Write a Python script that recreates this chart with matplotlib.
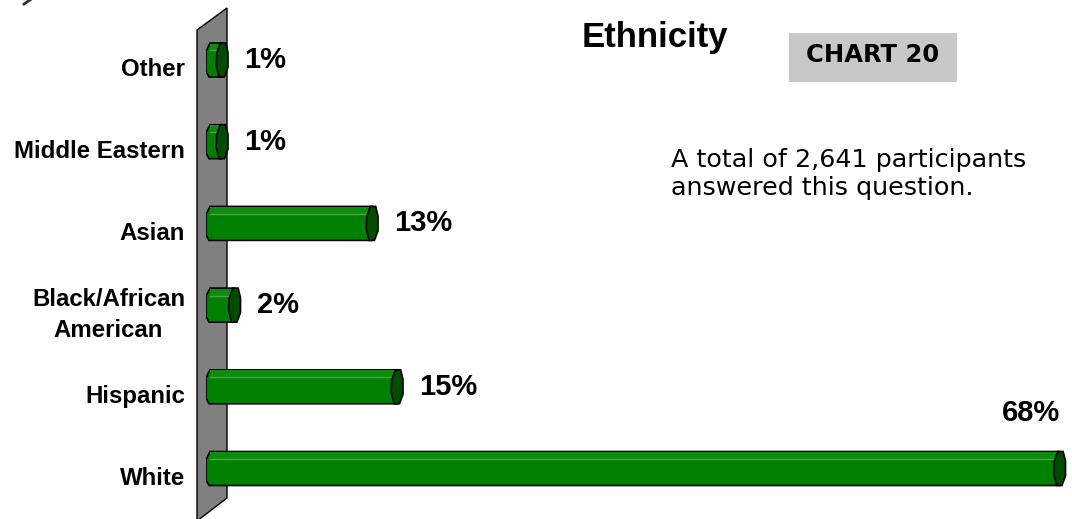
import matplotlib
matplotlib.use("Agg")
import matplotlib.pyplot as plt
from matplotlib.patches import Polygon, Rectangle

# Ethnicity breakdown (bottom to top)
categories = ["White", "Hispanic", "Black/African\nAmerican", "Asian", "Middle Eastern", "Other"]
percents = [68, 15, 2, 13, 1, 1]

W, H = 1072, 519
fig = plt.figure(figsize=(W / 100, H / 100), dpi=100)
fig.patch.set_facecolor("white")


def fx(px):
    return px / W


def fy(py):
    return 1 - py / H


# plot area: x in percent, y in category index
X0_PX, K = 206, 12.5
ax = fig.add_axes([fx(X0_PX), fy(509.35), (W - X0_PX) / W, (509.35 - 19.15) / H])
ax.set_xlim(0, (W - X0_PX) / K)
ax.set_ylim(-0.5, len(categories) - 0.5)
ax.axis("off")
ax.patch.set_visible(False)

# grey 3D back wall behind the bars
wall = Polygon([(fx(197), fy(30)), (fx(227), fy(8)), (fx(227), fy(498)), (fx(197), fy(521))],
               closed=True, facecolor="#808080", edgecolor="black", lw=1.0,
               transform=fig.transFigure, zorder=-1)
fig.add_artist(wall)
fig.add_artist(plt.Line2D([fx(24), fx(30)], [fy(4), fy(0)], color="#333333", lw=2,
                          transform=fig.transFigure))

bar_h = 0.416
cap_w = 0.95
x0 = 0.0

for i, (cat, v) in enumerate(zip(categories, percents)):
    top = i + bar_h / 2
    bot = i - bar_h / 2
    # front face ends at the value, the end cap sticks out to the right
    cl = v - 0.2 * cap_w
    cr = cl + cap_w
    xb = cl + 0.5 * cap_w
    body = Polygon([(x0 + 0.32, top), (xb, top), (xb, bot), (x0 + 0.24, bot),
                    (x0, bot + 0.07), (x0, top - 0.1)],
                   closed=True, facecolor="#008000", edgecolor="black", lw=1.2, zorder=2)
    ax.add_patch(body)
    ax.add_patch(Rectangle((x0 + 0.3, top - 0.22 * bar_h), xb - x0 - 0.3, 0.2 * bar_h,
                           facecolor="#0e8c0e", edgecolor="none", zorder=3))
    ax.plot([x0 + 0.3, xb], [top - 0.22 * bar_h] * 2, color="#45a545", lw=1, zorder=3)
    cap = Polygon([(cl + 0.35 * cap_w, top), (cl + 0.8 * cap_w, top), (cr, top - 0.28 * bar_h),
                   (cr, bot + 0.28 * bar_h), (cl + 0.7 * cap_w, bot), (cl + 0.25 * cap_w, bot),
                   (cl, bot + 0.35 * bar_h), (cl + 0.05 * cap_w, top - 0.3 * bar_h)],
                  closed=True, facecolor="#004d00", edgecolor="black", lw=1.2, zorder=4)
    ax.add_patch(cap)

    ax.text((185 - X0_PX) / K, i - 0.12, cat, ha="right", va="center",
            multialignment="center", fontsize=17.3, fontweight="bold",
            family="Liberation Sans", linespacing=1.4, clip_on=False)

    if v == max(percents):
        ax.text(cr - 0.4, i + 0.68, f"{v}%", ha="right", va="center", fontsize=21,
                fontweight="bold", family="Liberation Sans")
    else:
        ax.text(cr + 1.3, i, f"{v}%", ha="left", va="center", fontsize=21,
                fontweight="bold", family="Liberation Sans")

fig.text(fx(655), fy(47), "Ethnicity", ha="center", va="baseline", fontsize=25,
         fontweight="bold", family="Liberation Sans")

fig.add_artist(Rectangle((fx(789), fy(82)), fx(957) - fx(789), fy(33) - fy(82),
                         facecolor="#c8c8c8", edgecolor="none", transform=fig.transFigure))
fig.text(fx(873), fy(62), "CHART 20", ha="center", va="baseline", fontsize=17.5,
         fontweight="bold", family="DejaVu Sans")

fig.text(fx(671), fy(148), "A total of 2,641 participants\nanswered this question.",
         ha="left", va="top", fontsize=18.3, family="DejaVu Sans", linespacing=1.2)

fig.savefig("out.png", dpi=100)
